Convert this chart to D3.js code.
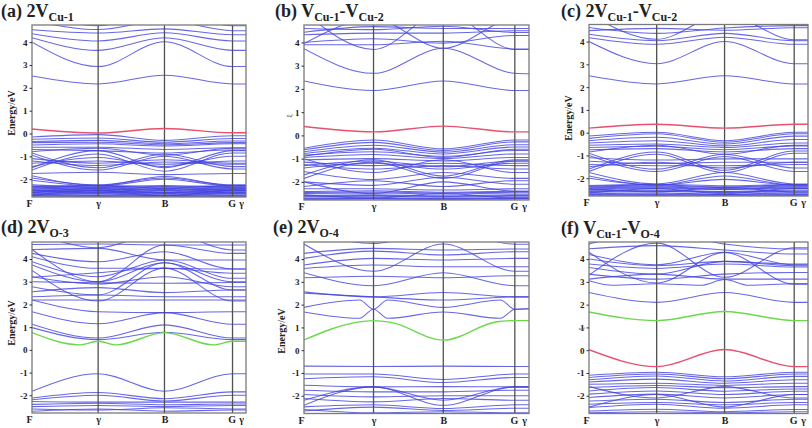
<!DOCTYPE html>
<html><head><meta charset="utf-8">
<script src="https://cdn.jsdelivr.net/npm/d3@7"></script>
<style>body{margin:0;background:#fff}svg{display:block}</style>
</head><body>
<script>
// ---------- shared axis data ----------
const kPath   = [0, 0.309, 0.619, 0.937, 1.0];   // high-symmetry positions along path
const kLabels = ["F", "γ", "B", "G", "γ"];
const yTicks  = [-2, -1, 0, 1, 2, 3, 4];
const eRange  = [-2.78, 4.75];

// Bands: 5 values = energies at [F, γ, B, G, γ]; or list of [segment, E] pairs
// ---------- (a) 2V_Cu-1 ----------
const blueA = [
 [2.52,2.17,2.55,2.17,2.17],[4.0,2.93,4.02,2.93,2.93],[4.19,3.64,4.19,3.64,3.64],
 [4.37,4.05,4.41,4.05,4.05],[4.54,4.4,4.58,4.32,4.32],[5.3,4.72,5.3,4.72,4.72],[4.95,4.55,4.95,4.5,4.5],
 [-0.15,-0.05,-0.3,-0.1,-0.1],[-0.25,-0.2,-0.38,-0.22,-0.22],[-0.35,-0.3,-0.45,-0.33,-0.33],
 [-0.4,-0.38,-0.5,-0.4,-0.4],
 [-0.5,-0.45,-0.55,-0.45,-0.45],[-0.6,-0.6,-0.7,-0.62,-0.62],[-0.7,-0.75,-0.85,-0.72,-0.72],
 [-0.8,-0.65,-0.95,-0.65,-0.65],
 [-1.5,-0.75,-1.5,-0.75,-0.75],[-1.6,-0.9,-1.65,-0.85,-0.85],[-1.45,-1.05,-1.45,-1.0,-1.0],
 [-0.85,-1.5,-0.9,-1.45,-1.45],[-0.95,-1.6,-1.0,-1.55,-1.55],[-1.1,-1.3,-1.15,-1.3,-1.3],
 [-1.2,-1.4,-1.25,-1.35,-1.35],[-1.3,-1.2,-1.35,-1.2,-1.2],[-1.75,-1.7,-1.8,-1.75,-1.75],
 [-1.95,-2.25,-1.95,-2.25,-2.25],[-2.05,-2.3,-2.0,-2.3,-2.3],[-1.85,-2.28,-1.88,-2.28,-2.28],
 [-2.35,-2.3,-2.38,-2.3,-2.3],[-2.42,-2.38,-2.45,-2.38,-2.38],[-2.5,-2.45,-2.5,-2.45,-2.45],
 [-2.55,-2.52,-2.58,-2.52,-2.52],[-2.62,-2.58,-2.62,-2.6,-2.6],[-2.68,-2.65,-2.7,-2.65,-2.65],
 [-2.74,-2.72,-2.75,-2.72,-2.72],[-2.45,-2.6,-2.4,-2.6,-2.6],[-2.6,-2.4,-2.62,-2.42,-2.42],
 [-2.78,-2.76,-2.78,-2.76,-2.76],[-2.25,-2.35,-2.28,-2.35,-2.35],
 [-2.32,-2.27,-2.33,-2.28,-2.28],[-2.38,-2.34,-2.41,-2.34,-2.34],[-2.47,-2.42,-2.48,-2.42,-2.42],
 [-2.52,-2.49,-2.55,-2.49,-2.49],[-2.58,-2.55,-2.6,-2.56,-2.56],[-2.65,-2.62,-2.66,-2.62,-2.62],
 [-2.71,-2.69,-2.72,-2.69,-2.69],[-2.7,-2.5,-2.72,-2.5,-2.5],[-2.3,-2.5,-2.32,-2.5,-2.5]
];
const redA = [[0.2,0.02,0.22,0.03,0.03]];
const greenA = [];

// ---------- (b) V_Cu-1-V_Cu-2 ----------
const blueB = [
 [2.34,1.93,2.34,1.93,1.93],[3.73,2.67,3.75,2.67,2.65],[5.3,3.7,5.3,3.7,3.7],
 [3.95,5.0,3.75,5.0,5.0],[3.9,3.9,4.05,3.72,3.72],[4.0,4.16,3.97,4.3,4.3],
 [4.33,4.4,4.4,4.5,4.5],[4.44,4.68,4.6,4.6,4.6],[4.6,4.55,4.7,4.43,4.43],
 [-0.55,-0.2,-0.58,-0.2,-0.2],[-0.62,-0.3,-0.65,-0.28,-0.28],[-0.7,-0.42,-0.72,-0.4,-0.4],
 [-0.78,-0.55,-0.8,-0.5,-0.5],[-0.85,-0.7,-0.9,-0.65,-0.65],[-0.95,-0.82,-1.0,-0.8,-0.8],
 [-1.05,-1.0,-1.1,-0.95,-0.95],[-1.7,-1.05,-1.75,-1.05,-1.05],[-1.85,-1.15,-1.85,-1.1,-1.1],
 [-1.0,-1.6,-1.05,-1.6,-1.6],[-1.15,-1.3,-1.2,-1.3,-1.3],[-1.25,-1.45,-1.3,-1.45,-1.45],
 [-1.4,-1.2,-1.45,-1.2,-1.2],[-1.55,-1.9,-1.6,-1.85,-1.85],[-2.0,-2.15,-1.8,-2.1,-2.1],
 [-2.2,-1.95,-2.2,-1.95,-1.95],[-2.0,-2.5,-2.0,-2.4,-2.4],[-2.3,-2.3,-2.35,-2.3,-2.3],
 [-2.42,-2.38,-2.45,-2.4,-2.4],[-2.5,-2.48,-2.52,-2.48,-2.48],[-2.58,-2.55,-2.6,-2.55,-2.55],
 [-2.64,-2.62,-2.66,-2.62,-2.62],[-2.7,-2.68,-2.72,-2.68,-2.68],[-2.76,-2.74,-2.76,-2.74,-2.74],
 [-2.55,-2.7,-2.5,-2.7,-2.7],[-2.46,-2.44,-2.48,-2.44,-2.44],[-2.61,-2.59,-2.63,-2.59,-2.59],
 [-2.73,-2.71,-2.74,-2.71,-2.71],[-0.9,-0.6,-0.95,-0.6,-0.6],[-1.3,-1.1,-1.35,-1.1,-1.1]
];
const redB = [[0.38,0.15,0.4,0.15,0.15]];
const greenB = [];

// ---------- (c) 2V_Cu-1-V_Cu-2 ----------
const blueC = [
 [2.5,2.14,2.5,2.14,2.14],[4.0,3.03,4.0,3.03,3.03],[4.17,3.88,4.19,3.88,3.88],
 [4.32,4.04,4.36,4.04,4.04],[4.48,4.58,4.5,4.61,4.61],[5.2,4.1,5.2,4.08,4.08],[4.62,4.36,4.6,4.7,4.7],
 [-0.15,0.02,-0.35,0.02,0.02],[-0.25,-0.05,-0.42,-0.05,-0.05],[-0.35,-0.2,-0.5,-0.15,-0.15],
 [-0.45,-0.35,-0.58,-0.3,-0.3],[-0.55,-0.5,-0.65,-0.45,-0.45],[-0.65,-0.6,-0.75,-0.58,-0.58],
 [-0.75,-0.7,-0.85,-0.7,-0.7],[-1.6,-0.85,-1.65,-0.8,-0.8],[-1.7,-0.95,-1.75,-0.9,-0.9],
 [-0.9,-1.6,-0.95,-1.55,-1.55],[-1.0,-1.7,-1.05,-1.7,-1.7],[-1.1,-1.2,-1.15,-1.15,-1.15],
 [-1.25,-1.35,-1.3,-1.3,-1.3],[-1.4,-1.45,-1.45,-1.4,-1.4],[-1.75,-2.25,-1.75,-2.25,-2.25],
 [-1.9,-2.3,-1.9,-2.3,-2.3],[-2.0,-2.3,-2.05,-2.3,-2.3],
 [-2.35,-2.3,-2.38,-2.3,-2.3],[-2.42,-2.38,-2.45,-2.38,-2.38],[-2.5,-2.45,-2.5,-2.45,-2.45],
 [-2.55,-2.52,-2.58,-2.52,-2.52],[-2.62,-2.58,-2.62,-2.6,-2.6],[-2.68,-2.65,-2.7,-2.65,-2.65],
 [-2.74,-2.72,-2.75,-2.72,-2.72],[-2.45,-2.6,-2.4,-2.6,-2.6],[-2.78,-2.76,-2.78,-2.76,-2.76],
 [-2.32,-2.27,-2.33,-2.28,-2.28],[-2.38,-2.34,-2.41,-2.34,-2.34],[-2.47,-2.42,-2.48,-2.42,-2.42],
 [-2.58,-2.55,-2.6,-2.56,-2.56],[-2.71,-2.69,-2.72,-2.69,-2.69],[-2.65,-2.45,-2.68,-2.45,-2.45],
 [-0.85,-0.55,-0.95,-0.55,-0.55],[-1.5,-1.3,-1.55,-1.3,-1.3]
];
const redC = [[0.2,0.37,0.2,0.37,0.37]];
const greenC = [];

// ---------- (d) 2V_O-3 ----------
const blueD = [
 [1.13,0.52,1.1,0.52,0.52],[0.98,0.45,0.78,0.45,0.45],[1.68,1.15,1.64,1.13,1.13],
 [2.2,1.68,1.64,1.68,1.68],[2.2,2.2,2.2,2.2,2.2],[2.34,2.42,2.34,2.34,2.34],
 [2.56,2.74,2.52,2.64,2.64],[3.5,2.15,3.6,2.15,2.15],[3.0,2.95,2.93,2.97,2.97],
 [3.22,2.9,3.22,2.78,2.78],[3.74,3.0,3.84,3.0,3.0],[3.88,3.22,3.96,3.15,3.15],
 [3.2,3.4,3.59,3.37,3.37],[4.1,3.59,3.59,3.56,3.56],[4.25,3.88,4.32,3.56,3.56],
 [4.42,4.47,3.96,3.96,3.96],[4.64,4.66,4.62,4.62,4.62],[2.78,2.42,3.84,2.64,2.64],
 [4.42,3.0,4.62,4.25,4.25],[5.2,4.5,5.2,4.4,4.4],
 [-1.82,-1.05,-1.82,-1.05,-1.05],[-2.12,-1.88,-2.15,-1.85,-1.85],[-2.2,-2.0,-2.25,-2.0,-2.0],
 [-2.27,-2.3,-2.3,-2.3,-2.3],[-2.4,-2.35,-2.42,-2.38,-2.38],[-2.5,-2.45,-2.5,-2.45,-2.45],
 [-2.6,-2.65,-2.55,-2.6,-2.6],[-2.7,-2.6,-2.7,-2.65,-2.65]
];
const redD = [];
const greenD = [[[0,0.76],[0.72,0.22],[1,0.38],[1.27,0.22],[2,0.76],[2.72,0.22],[3,0.38],[4,0.38]]];

// ---------- (e) 2V_O-4 ----------
const blueE = [
 [[0,1.68],[0.8,1.4],[1,1.8],[1.2,1.4],[2,1.68],[2.8,1.4],[3,1.8],[4,1.82]],
 [[0,1.88],[0.8,2.2],[1,1.8],[1.2,2.2],[2,1.88],[2.8,2.2],[3,1.8],[4,1.82]],
 [2.56,2.34,2.53,2.34,2.34],[2.5,2.34,2.2,2.34,2.34],[3.4,2.83,3.4,2.83,2.83],
 [3.18,3.25,3.18,3.27,3.27],[3.59,3.74,3.66,3.66,3.66],[3.74,4.03,3.96,4.03,4.03],
 [4.03,4.35,4.18,4.32,4.32],[4.25,4.47,4.4,4.44,4.44],[5.3,4.68,5.3,4.65,4.65],
 [4.66,3.47,4.66,3.47,3.47],
 [-0.7,-0.72,-0.7,-0.72,-0.72],[-1.05,-1.05,-1.29,-1.05,-1.05],[-1.25,-1.17,-1.42,-1.2,-1.2],
 [-1.54,-1.61,-1.6,-1.61,-1.61],[-2.2,-1.61,-2.2,-1.61,-1.61],[-1.76,-1.83,-1.83,-1.76,-1.76],
 [-1.95,-2.05,-2.0,-2.0,-2.0],[-2.12,-2.27,-2.12,-2.2,-2.2],[-2.42,-1.61,-2.42,-1.61,-1.61],
 [-2.49,-2.4,-2.56,-2.4,-2.4],[-2.67,-2.5,-2.65,-2.55,-2.55],[-2.6,-2.75,-2.7,-2.75,-2.75]
];
const redE = [];
const greenE = [[[0,0.45],[0.75,1.22],[1,1.3],[1.25,1.22],[2,0.44],[2.75,1.25],[3,1.3],[4,1.3]]];

// ---------- (f) V_Cu-1-V_O-4 ----------
const blueF = [
 [2.53,2.1,2.53,2.1,2.1],[[0,3.05],[0.35,2.85],[1,2.92],[1.65,2.85],[2,3.1],[2.35,2.85],[3,2.92],[4,2.92]],
 [3.12,3.34,3.12,3.12,3.12],[3.34,3.12,3.34,3.41,3.41],[4.3,2.95,4.29,2.9,2.9],
 [3.78,3.59,3.78,3.65,3.65],[4.0,3.71,3.9,3.71,3.71],[4.2,3.75,4.3,3.75,3.75],
 [4.45,4.59,4.4,4.22,4.22],[4.66,5.2,4.66,4.44,4.44],[3.3,4.7,3.2,4.5,4.5],[3.63,3.34,3.9,3.78,3.78],
 [-1.1,-0.97,-1.17,-0.97,-0.97],[-1.2,-1.05,-1.25,-1.05,-1.05],[-1.3,-1.13,-1.35,-1.15,-1.15],
 [-1.4,-1.27,-1.45,-1.3,-1.3],[-1.5,-1.45,-1.55,-1.45,-1.45],[-1.64,-1.55,-1.65,-1.6,-1.6],
 [-1.79,-1.64,-1.8,-1.7,-1.7],[-1.93,-1.79,-1.95,-1.8,-1.8],[-2.08,-1.93,-2.1,-1.95,-1.95],
 [-2.5,-1.95,-2.5,-1.95,-1.95],[-1.6,-2.1,-1.6,-2.1,-2.1],[-2.23,-2.15,-2.3,-2.15,-2.15],
 [-2.37,-2.3,-2.4,-2.3,-2.3],[-2.52,-2.37,-2.55,-2.4,-2.4],[-2.67,-2.59,-2.7,-2.6,-2.6],
 [-2.75,-2.7,-2.75,-2.7,-2.7]
];
const redF = [[0.02,-0.72,0.03,-0.72,-0.72]];
const greenF = [[1.68,1.3,1.7,1.3,1.3]];

// ---------- titles ----------
const titleA = [["(a) 2V",0],["Cu-1",1]];
const titleB = [["(b) V",0],["Cu-1",1],["-V",0],["Cu-2",1]];
const titleC = [["(c) 2V",0],["Cu-1",1],["-V",0],["Cu-2",1]];
const titleD = [["(d) 2V",0],["O-3",1]];
const titleE = [["(e) 2V",0],["O-4",1]];
const titleF = [["(f) V",0],["Cu-1",1],["-V",0],["O-4",1]];

// ---------- layout ----------
const panels = [
 {x0:32, x1:246, y0:25, y1:197, tx:1, ty:17, ylab:"Energy/eV", lx:13, ly:113, blue:blueA, red:redA, green:greenA, title:titleA},
 {x0:304, x1:529, y0:25, y1:200, tx:275, ty:17, ylab:"ξ", lx:289, ly:116, blue:blueB, red:redB, green:greenB, title:titleB},
 {x0:589, x1:808, y0:24.5, y1:196, tx:561, ty:17, ylab:"Energy/eV", lx:570, ly:118, blue:blueC, red:redC, green:greenC, title:titleC},
 {x0:32, x1:246, y0:242, y1:413, tx:1, ty:233, ylab:"Energy/eV", lx:13, ly:323, blue:blueD, red:redD, green:greenD, title:titleD},
 {x0:304, x1:529, y0:242, y1:413.5, tx:273, ty:233, ylab:"Energy/eV", lx:283, ly:331, blue:blueE, red:redE, green:greenE, title:titleE},
 {x0:589, x1:808, y0:242, y1:413.5, tx:561, ty:234, ylab:"ξ", lx:581, ly:329, blue:blueF, red:redF, green:greenF, title:titleF}
];

const FONT = "'Liberation Serif','Times New Roman',serif";
const svg = d3.select("body").append("svg").attr("width",812).attr("height",428);
const segToK = d3.scaleLinear().domain([0,1,2,3,4]).range(kPath);
const toPts = b => (typeof b[0] === "number") ? b.map((e,i)=>[i,e]) : b;

panels.forEach((p,pi)=>{
  const kx = d3.scaleLinear().domain([0,1]).range([p.x0,p.x1]);
  const x = s => kx(segToK(s));
  const y = d3.scaleLinear().domain(eRange).range([p.y1,p.y0]);
  const g = svg.append("g");
  const cid = "clip"+pi;
  g.append("clipPath").attr("id",cid).append("rect")
    .attr("x",p.x0).attr("y",p.y0).attr("width",p.x1-p.x0).attr("height",p.y1-p.y0);

  const line = d3.line().x(d=>x(d[0])).y(d=>y(d[1])).curve(d3.curveMonotoneX);
  const plot = g.append("g").attr("clip-path",`url(#${cid})`);
  plot.selectAll("path.blue").data(p.blue).join("path").attr("class","blue")
    .attr("d",b=>line(toPts(b))).attr("fill","none").attr("stroke","#4444e0")
    .attr("stroke-opacity",0.82).attr("stroke-width",1.05);
  // high-symmetry vertical lines
  plot.selectAll("line.hs").data(kPath.slice(1,4)).join("line").attr("class","hs")
    .attr("x1",d=>kx(d)).attr("x2",d=>kx(d)).attr("y1",p.y0).attr("y2",p.y1)
    .attr("stroke","#505050").attr("stroke-width",1.3);
  plot.selectAll("path.red").data(p.red).join("path").attr("class","red")
    .attr("d",b=>line(toPts(b))).attr("fill","none").attr("stroke","#e8506e").attr("stroke-width",1.4);
  plot.selectAll("path.green").data(p.green).join("path").attr("class","green")
    .attr("d",b=>line(toPts(b))).attr("fill","none").attr("stroke","#6ad84a").attr("stroke-width",1.4);

  // frame
  g.append("rect").attr("x",p.x0).attr("y",p.y0).attr("width",p.x1-p.x0).attr("height",p.y1-p.y0)
    .attr("fill","none").attr("stroke","#7a7a7a").attr("stroke-width",1.3);

  // y axis
  const ya = g.append("g").attr("transform",`translate(${p.x0},0)`)
    .call(d3.axisLeft(y).tickValues(yTicks).tickSize(2.5).tickPadding(2).tickFormat(d=>String(d)));
  ya.select(".domain").remove();
  ya.selectAll("line").attr("stroke","#333");
  ya.selectAll("text").attr("font-family",FONT).attr("font-weight","bold").attr("font-size",9).attr("fill","#222");

  // x axis labels
  const xa = g.append("g").attr("transform",`translate(0,${p.y1})`)
    .call(d3.axisBottom(kx).tickValues(kPath).tickSize(0).tickPadding(3).tickFormat((d,i)=>kLabels[i]));
  xa.select(".domain").remove();
  xa.selectAll("text").attr("font-family",FONT).attr("font-weight","bold").attr("font-size",10).attr("fill","#222")
    .attr("dx",(d,i)=> i===0 ? -3 : (i===4 ? -5 : (i===3 ? -1 : 0)));

  // y label
  g.append("text").attr("transform",`translate(${p.lx},${p.ly}) rotate(-90)`)
    .attr("text-anchor","middle").attr("dominant-baseline","middle")
    .attr("font-family",FONT).attr("font-weight","bold")
    .attr("font-size", p.ylab.length>2 ? 10 : 7).attr("fill", p.ylab.length>2 ? "#222" : "#777")
    .text(p.ylab);

  // title
  const t = g.append("text").attr("x",p.tx).attr("y",p.ty).attr("font-family",FONT)
    .attr("font-weight","bold").attr("fill","#222");
  let prevSub = 0;
  p.title.forEach(([s,sub])=>{
    const ts = t.append("tspan").text(s).attr("font-size", sub ? 12 : 18);
    const dy = sub && !prevSub ? 4 : (!sub && prevSub ? -4 : 0);
    if (dy) ts.attr("dy",dy);
    prevSub = sub;
  });
});
</script>
</body></html>
